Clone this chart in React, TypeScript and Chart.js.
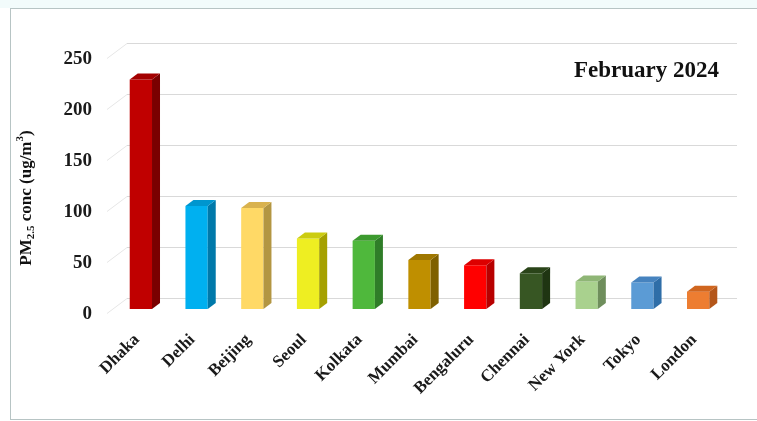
import React, { useEffect, useRef } from "react";
import { Chart, registerables } from "chart.js";

Chart.register(...registerables);

const cities = ["Dhaka", "Delhi", "Beijing", "Seoul", "Kolkata", "Mumbai", "Bengaluru", "Chennai", "New York", "Tokyo", "London"];
const pm25 = [225, 101, 99, 69, 67, 48, 43, 35, 27, 26, 17];
const frontColors = ["#c00000", "#00b0f0", "#ffd966", "#eeee22", "#4fb83c", "#bf8f00", "#ff0000", "#375623", "#a9d18e", "#5b9bd5", "#ed7d31"];
const sideColors = ["#7a0000", "#0079aa", "#b39642", "#a5a000", "#2f7d28", "#7f6000", "#b80000", "#1f3512", "#6f8e5c", "#2f6ea8", "#b4561a"];
const topColors = ["#a30000", "#0096cf", "#d9b24e", "#cccc10", "#3c9a2e", "#9f7700", "#dd0000", "#2a4419", "#8fb676", "#4683bf", "#d0661f"];
const yTicks = [0, 50, 100, 150, 200, 250];
const titleText = "February 2024";

const serif = "'Liberation Serif', 'Times New Roman', serif";

const DX = 8;
const DY = 6;

const threeD = {
  id: "threeD",
  beforeDatasetsDraw(chart: any) {
    const { ctx, chartArea } = chart;
    const ys = chart.scales.y;
    ctx.save();
    ctx.lineWidth = 1;
    for (const v of yTicks) {
      const y = Math.round(ys.getPixelForValue(v));
      ctx.strokeStyle = "#e6e6e6";
      ctx.beginPath();
      ctx.moveTo(chartArea.left - 6, y + 4.5);
      ctx.lineTo(chartArea.left + 14, y - 10.5);
      ctx.stroke();
      ctx.strokeStyle = "#d9d9d9";
      ctx.beginPath();
      ctx.moveTo(chartArea.left + 14, y - 10.5);
      ctx.lineTo(chartArea.right + 11, y - 10.5);
      ctx.stroke();
    }
    ctx.restore();
  },
  afterDatasetsDraw(chart: any) {
    const { ctx } = chart;
    const meta = chart.getDatasetMeta(0);
    ctx.save();
    meta.data.forEach((bar: any, i: number) => {
      const { x, y, base, width } = bar.getProps(["x", "y", "base", "width"], true);
      const l = x - width / 2;
      const r = x + width / 2;
      ctx.fillStyle = sideColors[i];
      ctx.beginPath();
      ctx.moveTo(r, y);
      ctx.lineTo(r + DX, y - DY);
      ctx.lineTo(r + DX, base - DY);
      ctx.lineTo(r, base);
      ctx.closePath();
      ctx.fill();
      ctx.fillStyle = topColors[i];
      ctx.beginPath();
      ctx.moveTo(l, y);
      ctx.lineTo(l + DX, y - DY);
      ctx.lineTo(r + DX, y - DY);
      ctx.lineTo(r, y);
      ctx.closePath();
      ctx.fill();
    });
    ctx.restore();
  },
  afterDraw(chart: any) {
    const { ctx, chartArea } = chart;
    ctx.save();
    ctx.fillStyle = "#111111";
    ctx.font = `bold 23px ${serif}`;
    ctx.textAlign = "right";
    ctx.textBaseline = "alphabetic";
    ctx.fillText(titleText, chartArea.right - 7, chartArea.top + 23);

    // y-axis title with subscript and superscript
    const big = `bold 17px ${serif}`;
    const small = `bold 11px ${serif}`;
    const parts: [string, string, number][] = [
      ["PM", big, 0],
      ["2.5", small, 4],
      [" conc (ug/m", big, 0],
      ["3", small, -7],
      [")", big, 0],
    ];
    let total = 0;
    for (const [t, f] of parts) {
      ctx.font = f;
      total += ctx.measureText(t).width;
    }
    ctx.translate(27, 198);
    ctx.rotate(-Math.PI / 2);
    ctx.textAlign = "left";
    ctx.textBaseline = "middle";
    let cx = -total / 2;
    for (const [t, f, dy] of parts) {
      ctx.font = f;
      ctx.fillText(t, cx, dy);
      cx += ctx.measureText(t).width;
    }
    ctx.restore();
  },
};

export default function App() {
  const ref = useRef<HTMLCanvasElement>(null);
  useEffect(() => {
    if (!ref.current) return;
    const chart = new Chart(ref.current, {
      type: "bar",
      data: {
        labels: cities,
        datasets: [
          {
            label: "PM2.5 conc (ug/m3)",
            data: pm25,
            backgroundColor: frontColors,
            borderWidth: 0,
            barPercentage: 0.4,
            categoryPercentage: 1,
          },
        ],
      },
      options: {
        animation: false,
        responsive: false,
        devicePixelRatio: 1,
        layout: { padding: { top: 54, right: 31, left: 0, bottom: 0 } },
        plugins: {
          legend: { display: false },
          tooltip: { enabled: false },
          title: { display: false },
        },
        scales: {
          x: {
            grid: { display: false, drawTicks: false },
            border: { display: false },
            ticks: {
              color: "#1a1a1a",
              font: { family: serif, size: 17, weight: "bold" },
              minRotation: 45,
              maxRotation: 45,
              padding: 21,
              labelOffset: -4,
              autoSkip: false,
            },
            afterFit: (s: any) => {
              s.height = 112;
            },
          },
          y: {
            min: 0,
            max: 250,
            grid: { display: false, drawTicks: false },
            border: { display: false },
            ticks: {
              stepSize: 50,
              color: "#1a1a1a",
              font: { family: serif, size: 19, weight: "bold" },
              padding: 21,
              labelOffset: 5,
            },
            afterFit: (s: any) => {
              s.width = 113;
            },
          },
        },
      },
      plugins: [threeD],
    });
    return () => chart.destroy();
  }, []);

  return (
    <div style={{ position: "absolute", left: 0, top: 0, width: 757, height: 421, background: "#ffffff", overflow: "hidden" }}>
      <div style={{ position: "absolute", left: 0, top: 0, width: 757, height: 8, background: "#f2fbfb" }} />
      <div
        style={{
          position: "absolute",
          left: 10,
          top: 8,
          width: 760,
          height: 412,
          boxSizing: "border-box",
          border: "1px solid #b7c4c4",
        }}
      />
      <canvas ref={ref} width={757} height={421} style={{ position: "absolute", left: 0, top: 0, width: 757, height: 421 }} />
    </div>
  );
}
